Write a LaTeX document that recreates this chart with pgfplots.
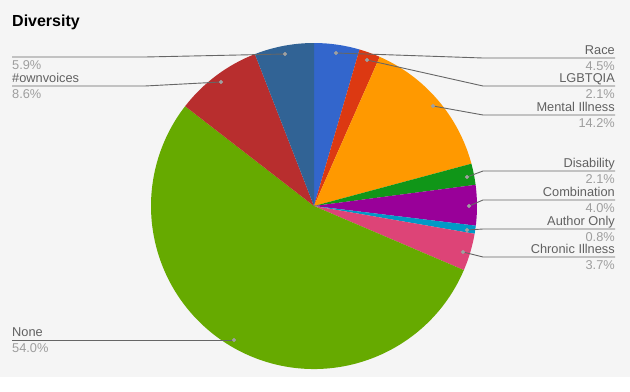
\documentclass[border=0pt]{standalone}
\usepackage{pgfplots}
\usepackage{pgfplotstable}
\pgfplotsset{compat=1.18}
\usepackage{fontspec}
\setmainfont{Liberation Sans}
\definecolor{bg}{HTML}{F5F5F5}
\definecolor{cRace}{HTML}{3366CC}
\definecolor{cLGBT}{HTML}{DC3912}
\definecolor{cMental}{HTML}{FF9900}
\definecolor{cDisab}{HTML}{109618}
\definecolor{cComb}{HTML}{990099}
\definecolor{cAuthor}{HTML}{0099C6}
\definecolor{cChronic}{HTML}{DD4477}
\definecolor{cNone}{HTML}{66AA00}
\definecolor{cOwn}{HTML}{B82E2E}
\definecolor{cBlank}{HTML}{316395}
\definecolor{namecol}{HTML}{616161}
\definecolor{pctcol}{HTML}{9E9E9E}
\definecolor{linecol}{HTML}{666666}
\definecolor{dotcol}{HTML}{A0A0A0}
\newcommand{\lbl}{\fontsize{12.8}{14}\selectfont}
\pgfplotstableread[col sep=comma]{
pct,col
4.5,cRace
2.1,cLGBT
14.2,cMental
2.1,cDisab
4.0,cComb
0.8,cAuthor
3.7,cChronic
54.0,cNone
8.6,cOwn
5.9,cBlank
}\piedata
\tikzset{
  rname/.style={anchor=base east, inner sep=0pt, font=\lbl, text=namecol},
  rpct/.style={anchor=base east, inner sep=0pt, font=\lbl, text=pctcol},
  lname/.style={anchor=base west, inner sep=0pt, font=\lbl, text=namecol},
  lpct/.style={anchor=base west, inner sep=0pt, font=\lbl, text=pctcol},
}
\begin{document}
\begin{tikzpicture}
\begin{axis}[
  width=630pt, height=377pt, scale only axis,
  xmin=0, xmax=630, ymin=0, ymax=377, y dir=reverse,
  hide axis, clip=false,
]
\fill[bg] (axis cs:0,0) rectangle (axis cs:630,377);
\def\cx{314}\def\cy{206}\def\R{163}
\gdef\cum{0}
\pgfplotsforeachungrouped \i in {0,...,9}{%
  \pgfplotstablegetelem{\i}{pct}\of\piedata \let\slval\pgfplotsretval
  \pgfplotstablegetelem{\i}{col}\of\piedata \let\slcol\pgfplotsretval
  \pgfmathsetmacro\sa{90-\cum/99.9*360}%
  \pgfmathsetmacro\cumnew{\cum+\slval}%
  \pgfmathsetmacro\sb{90-\cumnew/99.9*360}%
  \edef\temp{\noexpand\fill[\slcol] (axis cs:\cx,\cy) -- ++(\sa:\R pt) arc[start angle=\sa, end angle=\sb, radius=\R pt] -- cycle;}%
  \temp
  \xdef\cum{\cumnew}%
}
% leader lines
\addplot[linecol, line width=0.9pt, no marks] coordinates {(336,53) (483,58) (615,58)};
\addplot[linecol, line width=0.9pt, no marks] coordinates {(367,60) (483,86) (615,86)};
\addplot[linecol, line width=0.9pt, no marks] coordinates {(433,106) (483,115) (615,115)};
\addplot[linecol, line width=0.9pt, no marks] coordinates {(467,177) (483,171) (615,171)};
\addplot[linecol, line width=0.9pt, no marks] coordinates {(469,206) (483,200) (615,200)};
\addplot[linecol, line width=0.9pt, no marks] coordinates {(467,230) (483,229) (615,229)};
\addplot[linecol, line width=0.9pt, no marks] coordinates {(463,252) (483,257) (615,257)};
\addplot[linecol, line width=0.9pt, no marks] coordinates {(285,54) (145,57) (12,57)};
\addplot[linecol, line width=0.9pt, no marks] coordinates {(221,82) (145,86) (12,86)};
\addplot[linecol, line width=0.9pt, no marks] coordinates {(234,340) (12,340)};
% dots
\addplot[only marks, mark=*, mark size=1.8pt, color=dotcol] coordinates {
(336,53) (367,60) (433,106) (467,177) (469,206) (467,230) (463,252) (285,54) (221,82) (234,340)};
% title
\node[anchor=base west, inner sep=0pt, font=\fontsize{16}{18}\selectfont\bfseries, text=black] at (axis cs:12,26) {Diversity};
% right labels
\node[rname] at (axis cs:615,54.5) {Race};
\node[rpct]  at (axis cs:615,70) {4.5\%};
\node[rname] at (axis cs:615,82.5) {LGBTQIA};
\node[rpct]  at (axis cs:615,98) {2.1\%};
\node[rname] at (axis cs:615,111.5) {Mental Illness};
\node[rpct]  at (axis cs:615,127) {14.2\%};
\node[rname] at (axis cs:615,167.5) {Disability};
\node[rpct]  at (axis cs:615,183) {2.1\%};
\node[rname] at (axis cs:615,196.5) {Combination};
\node[rpct]  at (axis cs:615,212) {4.0\%};
\node[rname] at (axis cs:615,225.5) {Author Only};
\node[rpct]  at (axis cs:615,241) {0.8\%};
\node[rname] at (axis cs:615,253.5) {Chronic Illness};
\node[rpct]  at (axis cs:615,269) {3.7\%};
% left labels
\node[lpct]  at (axis cs:12,69.5) {5.9\%};
\node[lname] at (axis cs:12,82.5) {\#ownvoices};
\node[lpct]  at (axis cs:12,98.5) {8.6\%};
\node[lname] at (axis cs:12,336.5) {None};
\node[lpct]  at (axis cs:12,352.5) {54.0\%};
\end{axis}
\end{tikzpicture}
\end{document}
